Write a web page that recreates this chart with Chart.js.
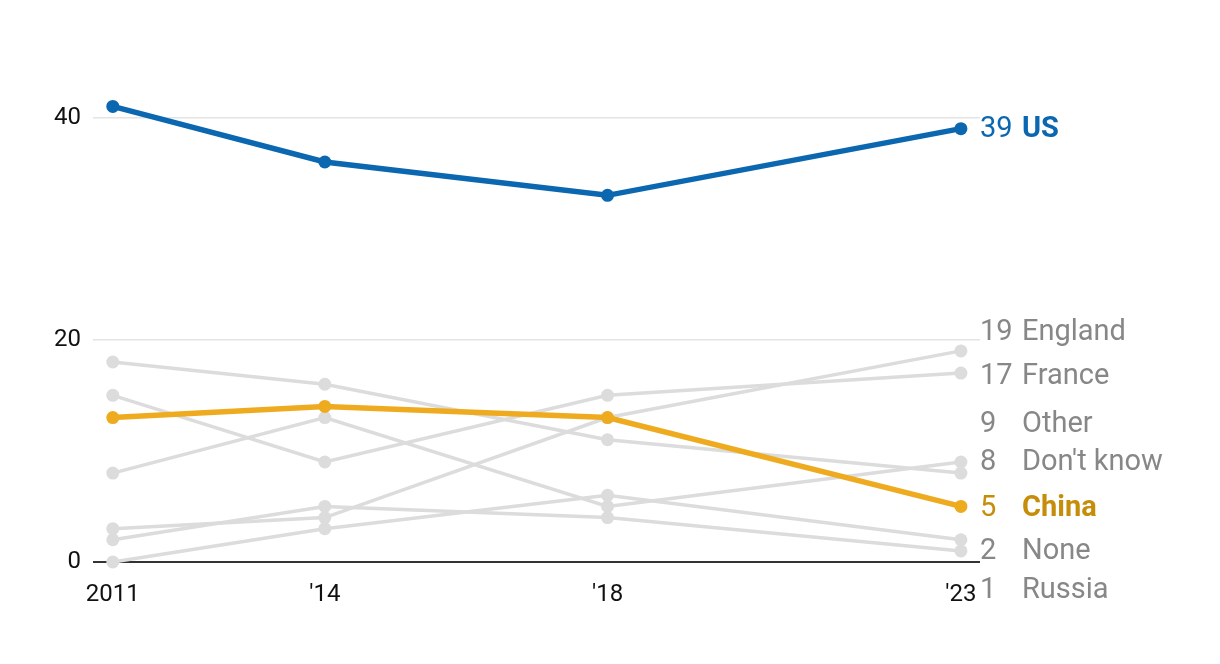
<!DOCTYPE html>
<html>
<head>
<meta charset="utf-8">
<script src="https://cdn.jsdelivr.net/npm/chart.js@4"></script>
<style>
  body { margin: 0; background: #fff; }
  #wrap { width: 1220px; height: 664px; position: relative; }
</style>
</head>
<body>
<div id="wrap"><canvas id="countryChart"></canvas></div>
<script>
// Survey years and answers (percent)
const years = [2011, 2014, 2018, 2023];
const yearLabels = ['2011', "'14", "'18", "'23"];
const usValues = [41, 36, 33, 39];
const chinaValues = [13, 14, 13, 5];
const englandValues = [3, 4, 13, 19];
const franceValues = [15, 9, 15, 17];
const otherValues = [8, 13, 5, 9];
const dontKnowValues = [18, 16, 11, 8];
const noneValues = [0, 3, 6, 2];
const russiaValues = [2, 5, 4, 1];
const yTicks = [0, 20, 40];

const blue = '#0b67b0';
const orange = '#efab1f';
const gray = '#dcdcdc';
const labelGray = '#878787';

const toPoints = (values) => values.map((v, i) => ({ x: years[i], y: v }));

const makeSet = (label, values, color, width, labelColor, bold, nudge) => ({
    label: label,
    data: toPoints(values),
    borderColor: color,
    backgroundColor: color,
    pointBackgroundColor: color,
    pointBorderWidth: 0,
    pointRadius: 6.5,
    pointHoverRadius: 6.5,
    borderWidth: width,
    tension: 0,
    clip: false,
    endLabelColor: labelColor,
    endLabelBold: bold,
    endLabelNudge: nudge,
});

// end-of-line labels, nudged apart so they don't collide
const endLabels = {
    id: 'endLabels',
    afterDatasetsDraw(chart) {
        const ctx = chart.ctx;
        const right = chart.chartArea.right;
        ctx.save();
        ctx.textBaseline = 'middle';
        ctx.textAlign = 'left';
        chart.data.datasets.forEach((ds, i) => {
            const meta = chart.getDatasetMeta(i);
            const pt = meta.data[meta.data.length - 1];
            const value = ds.data[ds.data.length - 1].y;
            const y = pt.y + ds.endLabelNudge;
            ctx.fillStyle = ds.endLabelColor;
            ctx.font = '29px Roboto';
            ctx.fillText(String(value), right + 0, y);
            ctx.font = (ds.endLabelBold ? 'bold ' : '') + '29px Roboto';
            ctx.fillText(ds.label, right + 42, y);
        });
        ctx.restore();
    }
};

const countryChart = new Chart(document.getElementById('countryChart').getContext('2d'), {
    type: 'line',
    data: {
        datasets: [
            makeSet('US', usValues, blue, 5.5, blue, true, 1),
            makeSet('China', chinaValues, orange, 5.5, '#c68d0a', true, 2),
            makeSet('England', englandValues, gray, 3.5, labelGray, false, -18),
            makeSet('France', franceValues, gray, 3.5, labelGray, false, 4),
            makeSet('Other', otherValues, gray, 3.5, labelGray, false, -37),
            makeSet("Don't know", dontKnowValues, gray, 3.5, labelGray, false, -10),
            makeSet('None', noneValues, gray, 3.5, labelGray, false, 12),
            makeSet('Russia', russiaValues, gray, 3.5, labelGray, false, 40),
        ]
    },
    options: {
        responsive: true,
        maintainAspectRatio: false,
        animation: false,
        layout: {
            padding: { top: 62, right: 240, bottom: 0, left: 0 }
        },
        scales: {
            x: {
                type: 'linear',
                min: 2010.72,
                max: 2023.27,
                afterBuildTicks: (scale) => { scale.ticks = years.map(v => ({ value: v })); },
                afterFit: (scale) => { scale.height = 102; },
                grid: { display: false, drawTicks: false },
                border: { display: false },
                ticks: {
                    padding: 19,
                    color: '#111',
                    maxRotation: 0,
                    autoSkip: false,
                    font: { family: 'Roboto', size: 24 },
                    callback: (value) => yearLabels[years.indexOf(value)],
                }
            },
            y: {
                min: 0,
                max: 45,
                afterBuildTicks: (scale) => { scale.ticks = yTicks.map(v => ({ value: v })); },
                afterFit: (scale) => { scale.width = 93; },
                grid: {
                    drawTicks: false,
                    color: (c) => c.tick && c.tick.value === 0 ? '#333' : '#e4e4e4',
                    lineWidth: (c) => c.tick && c.tick.value === 0 ? 2 : 1.5,
                },
                border: { display: false },
                ticks: {
                    padding: 12,
                    color: '#111',
                    font: { family: 'Roboto', size: 24 },
                }
            }
        },
        plugins: {
            legend: { display: false },
            tooltip: { enabled: false },
        }
    },
    plugins: [endLabels]
});
</script>
</body>
</html>
